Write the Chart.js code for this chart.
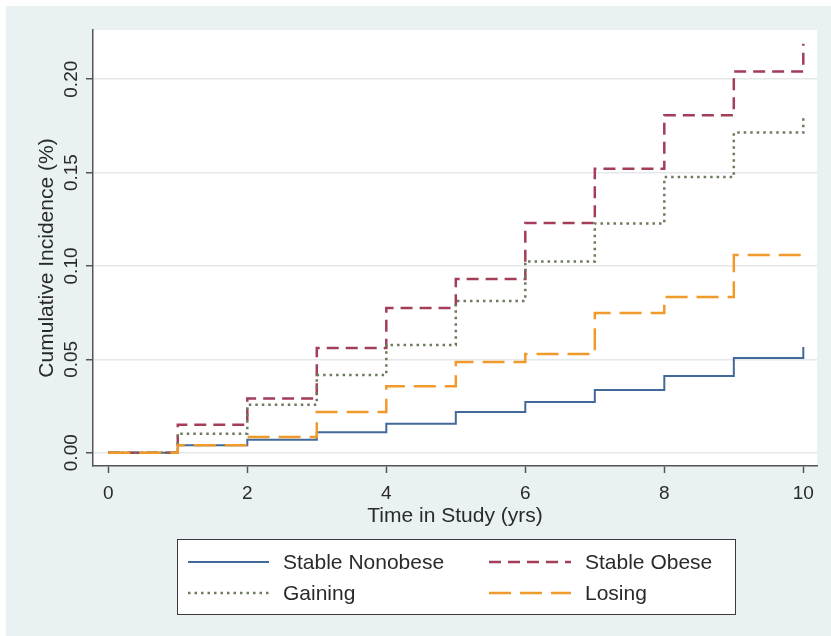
<!DOCTYPE html>
<html>
<head>
<meta charset="utf-8">
<script src="https://cdn.jsdelivr.net/npm/chart.js@4.4.1/dist/chart.umd.min.js"></script>
<style>
html,body{margin:0;padding:0;background:#ffffff;}
canvas{display:block;}
</style>
</head>
<body>
<canvas id="c" width="831" height="636"></canvas>
<script>
// ---- data ----
const years = [0, 1, 2, 3, 4, 5, 6, 7, 8, 9, 10];
const stableNonobese = [0, 0.004, 0.007, 0.011, 0.0155, 0.0218, 0.0272, 0.0336, 0.0411, 0.0507, 0.0566];
const stableObese    = [0, 0.015, 0.029, 0.056, 0.0775, 0.093, 0.123, 0.152, 0.1807, 0.2041, 0.219];
const gaining        = [0, 0.0102, 0.0257, 0.0416, 0.0577, 0.0813, 0.1024, 0.1228, 0.1476, 0.1714, 0.181];
const losing         = [0, 0.004, 0.0084, 0.0218, 0.0356, 0.0486, 0.0529, 0.0748, 0.0834, 0.1058, 0.1058];
const seriesNames = ['Stable Nonobese', 'Stable Obese', 'Gaining', 'Losing'];
const xTickValues = [0, 2, 4, 6, 8, 10];
const xTickLabels = ['0', '2', '4', '6', '8', '10'];
const yTickValues = [0, 0.05, 0.10, 0.15, 0.20];
const yTickLabels = ['0.00', '0.05', '0.10', '0.15', '0.20'];
const xTitle = 'Time in Study (yrs)';
const yTitle = 'Cumulative Incidence (%)';

const FONT = "'Liberation Sans', Arial, Helvetica, sans-serif";
const TEXT = '#2a2a2a';
const AXIS = '#555555';

function pts(arr) { return years.map((x, i) => ({ x: x, y: arr[i] })); }

const styles = [
  { color: '#41699a', dash: [], width: 2, order: 4 },
  { color: '#a33d58', dash: [12, 7], width: 2.5, order: 3 },
  { color: '#6c7b5c', dash: [2.5, 4], width: 2.5, order: 2 },
  { color: '#f09a2c', dash: [22, 9], width: 2.5, order: 1 }
];
const seriesData = [stableNonobese, stableObese, gaining, losing];

const datasets = seriesData.map((arr, i) => ({
  label: seriesNames[i],
  data: pts(arr),
  borderColor: styles[i].color,
  borderDash: styles[i].dash,
  borderWidth: styles[i].width,
  borderCapStyle: 'butt',
  borderJoinStyle: 'miter',
  stepped: true,
  pointRadius: 0,
  fill: false,
  tension: 0,
  order: styles[i].order
}));

const decor = {
  id: 'decor',
  beforeDraw(chart) {
    const { ctx, chartArea: a } = chart;
    ctx.save();
    ctx.fillStyle = '#ffffff';
    ctx.fillRect(0, 0, chart.width, chart.height);
    ctx.fillStyle = '#eaf1f2';
    ctx.fillRect(6, 6, chart.width - 6, chart.height - 6);
    ctx.fillStyle = '#ffffff';
    ctx.fillRect(a.left, a.top, a.right - a.left, a.bottom - a.top);
    ctx.restore();
  },
  afterDraw(chart) {
    const { ctx, chartArea: a } = chart;
    const ys = chart.scales.y;
    ctx.save();
    ctx.fillStyle = TEXT;
    // rotated y tick labels
    ctx.font = '19px ' + FONT;
    ctx.textAlign = 'center';
    ctx.textBaseline = 'alphabetic';
    yTickValues.forEach((v, i) => {
      const py = ys.getPixelForValue(v);
      ctx.save();
      ctx.translate(77, py);
      ctx.rotate(-Math.PI / 2);
      ctx.fillText(yTickLabels[i], 0, 0);
      ctx.restore();
    });
    // y title
    ctx.font = '21px ' + FONT;
    ctx.save();
    ctx.translate(53, 258);
    ctx.rotate(-Math.PI / 2);
    ctx.fillText(yTitle, 0, 0);
    ctx.restore();
    // x title
    ctx.fillText(xTitle, (a.left + a.right) / 2, 522);

    // legend
    const bx = 177, by = 539, bw = 558, bh = 75;
    ctx.fillStyle = '#ffffff';
    ctx.fillRect(bx, by, bw, bh);
    ctx.strokeStyle = '#3a3a3a';
    ctx.lineWidth = 1;
    ctx.strokeRect(bx + 0.5, by + 0.5, bw, bh);
    const slots = [
      { x0: 188, x1: 269, tx: 283, y: 569 },
      { x0: 489, x1: 571, tx: 585, y: 569 },
      { x0: 188, x1: 269, tx: 283, y: 600 },
      { x0: 489, x1: 571, tx: 585, y: 600 }
    ];
    chart.data.datasets.forEach((ds, i) => {
      const s = slots[i];
      const ly = s.y - 7;
      ctx.save();
      ctx.strokeStyle = ds.borderColor;
      ctx.lineWidth = ds.borderWidth;
      ctx.setLineDash(ds.borderDash);
      ctx.lineCap = 'butt';
      ctx.beginPath();
      ctx.moveTo(s.x0, ly);
      ctx.lineTo(s.x1, ly);
      ctx.stroke();
      ctx.restore();
      ctx.fillStyle = TEXT;
      ctx.font = '21px ' + FONT;
      ctx.textAlign = 'left';
      ctx.textBaseline = 'alphabetic';
      ctx.fillText(ds.label, s.tx, s.y);
    });
    ctx.restore();
  }
};

new Chart(document.getElementById('c'), {
  type: 'line',
  data: { datasets: datasets },
  options: {
    responsive: false,
    animation: false,
    devicePixelRatio: 1,
    layout: { padding: { left: 0, top: 30, right: 14, bottom: 0 } },
    plugins: { legend: { display: false }, tooltip: { enabled: false }, title: { display: false } },
    scales: {
      x: {
        type: 'linear',
        min: -0.2201,
        max: 10.197,
        afterFit(scale) { scale.height = 170; },
        afterBuildTicks(scale) { scale.ticks = xTickValues.map(v => ({ value: v })); },
        ticks: {
          callback: (v, i) => xTickLabels[i],
          color: TEXT,
          font: { family: FONT, size: 19 },
          padding: 9,
          maxRotation: 0,
          minRotation: 0,
          autoSkip: false
        },
        grid: {
          display: true,
          drawOnChartArea: false,
          drawTicks: true,
          tickLength: 7,
          tickColor: AXIS,
          tickWidth: 1.5
        },
        border: { display: true, color: AXIS, width: 1.5 }
      },
      y: {
        type: 'linear',
        min: -0.00712,
        max: 0.22635,
        afterFit(scale) { scale.width = 93; },
        afterBuildTicks(scale) { scale.ticks = yTickValues.map(v => ({ value: v })); },
        ticks: { display: false },
        grid: {
          display: true,
          drawOnChartArea: true,
          drawTicks: true,
          tickLength: 7,
          color: '#e4e8ea',
          lineWidth: 1.5,
          tickColor: AXIS,
          tickWidth: 1.5
        },
        border: { display: true, color: AXIS, width: 1.5 }
      }
    }
  },
  plugins: [decor]
});
</script>
</body>
</html>
